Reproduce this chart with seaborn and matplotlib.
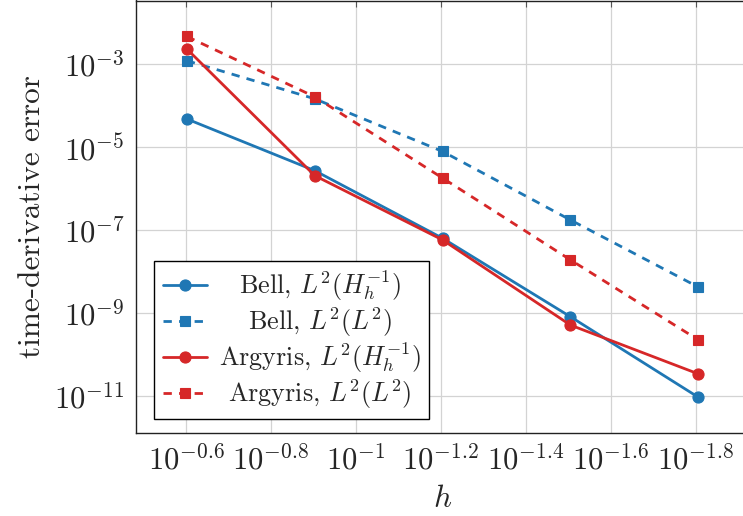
import matplotlib
matplotlib.use("Agg")
import matplotlib.pyplot as plt
import seaborn as sns
import numpy as np
import pandas as pd
from matplotlib.ticker import FixedLocator, FixedFormatter, NullLocator

# ---- data ----
h = [1/4, 1/8, 1/16, 1/32, 1/64]
bell_hm1 = [4.73e-5, 2.69e-6, 6.3e-8, 8.1e-10, 9.3e-12]
bell_l2 = [1.2e-3, 1.45e-4, 7.8e-6, 1.74e-7, 4.2e-9]
arg_hm1 = [2.3e-3, 2.04e-6, 5.75e-8, 5.1e-10, 3.4e-11]
arg_l2 = [4.6e-3, 1.62e-4, 1.78e-6, 1.9e-8, 2.24e-10]

labels = [r"Bell, $L^2(H_h^{-1})$", r"Bell, $L^2(L^2)$",
          r"Argyris, $L^2(H_h^{-1})$", r"Argyris, $L^2(L^2)$"]
xtick_exp = ["-0.6", "-0.8", "-1", "-1.2", "-1.4", "-1.6", "-1.8"]
ytick_exp = ["-3", "-5", "-7", "-9", "-11"]

blue = "#1f77b4"
red = "#d62728"

sns.set_theme(style="white")
plt.rcParams["font.family"] = ["cmr10", "DejaVu Serif"]
plt.rcParams["mathtext.fontset"] = "cm"
plt.rcParams["axes.formatter.use_mathtext"] = True
plt.rcParams["axes.unicode_minus"] = False

FS_TICK = 22
FS_LAB = 22.5
FS_LEG = 18.8

fig = plt.figure(figsize=(7.43, 5.16), dpi=100)
ax = fig.add_axes([135.7/743, (516-433.3)/516, 613.8/743, 432.8/516])

series = [
    (bell_hm1, blue, "o", "-"),
    (bell_l2, blue, "s", (0, (3, 2.6))),
    (arg_hm1, red, "o", "-"),
    (arg_l2, red, "s", (0, (3, 2.6))),
]
for (vals, col, mk, ls), lab in zip(series, labels):
    df = pd.DataFrame({"h": h, "err": vals})
    sns.lineplot(data=df, x="h", y="err", ax=ax, color=col, marker=mk,
                 linestyle=ls, linewidth=2.0, markersize=8 if mk == "o" else 7,
                 markeredgewidth=0.8, markeredgecolor=col, label=lab,
                 errorbar=None, sort=False)

ax.set_xscale("log")
ax.set_yscale("log")
ax.set_xlim(10**-0.4816, 10**-1.9266)
ax.set_ylim(10**-11.9, 10**-1.47)

xt = [10**float(e) for e in xtick_exp]
ax.xaxis.set_major_locator(FixedLocator(xt))
ax.xaxis.set_major_formatter(FixedFormatter([r"$10^{%s}$" % e for e in xtick_exp]))
ax.xaxis.set_minor_locator(NullLocator())
yt = [10**float(e) for e in ytick_exp]
ax.yaxis.set_major_locator(FixedLocator(yt))
ax.yaxis.set_major_formatter(FixedFormatter([r"$10^{%s}$" % e for e in ytick_exp]))
ax.yaxis.set_minor_locator(NullLocator())

ax.grid(True, which="major", color="#d3d3d3", linewidth=0.9)
ax.set_axisbelow(True)
ax.tick_params(axis="both", which="major", direction="in", length=4, width=0.8,
               color="#555555", labelsize=FS_TICK, top=True, right=True, pad=8)
for s in ax.spines.values():
    s.set_color("#222222")
    s.set_linewidth(1.0)

ax.set_xlabel(r"$h$", fontsize=FS_LAB, labelpad=7)
ax.set_ylabel("time-derivative error", fontsize=FS_LAB, labelpad=6)

leg = ax.legend(loc="lower left", bbox_to_anchor=(0.0306, 0.0319),
                borderaxespad=0, fontsize=FS_LEG, frameon=True, fancybox=False,
                framealpha=1, edgecolor="black", handlelength=1.71,
                handletextpad=0.45, labelspacing=0.08, borderpad=0.32)
leg.get_frame().set_linewidth(1.0)

# center legend texts like pgfplots
fig.canvas.draw()
texts = leg.get_texts()
widths = [t.get_window_extent().width for t in texts]
mw = max(widths)
for t, w in zip(texts, widths):
    t.set_x((mw - w) / 2)

fig.savefig("out.png", dpi=100)
